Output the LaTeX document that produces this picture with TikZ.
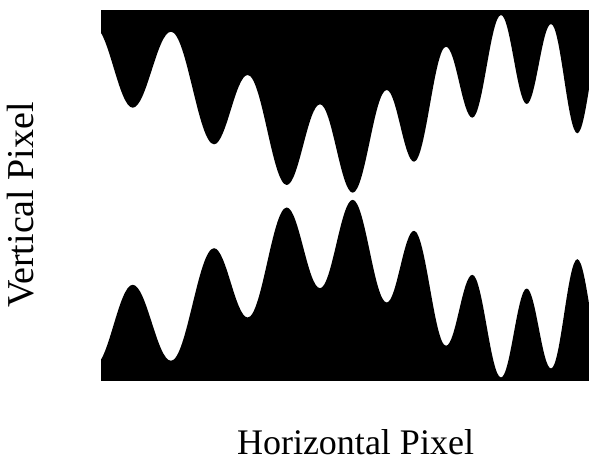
\documentclass[tikz,border=0pt]{standalone}
\usepackage{fontspec}
\setmainfont{Liberation Serif}
\tikzset{
  axislabel/.style={inner sep=0pt, text=black, text depth=0pt},
  band/.style={fill=black, draw=none}
}
\begin{document}
\begin{tikzpicture}[x=1pt,y=-1pt]
\useasboundingbox (0,0) rectangle (589,457);
\begin{scope}
\clip (101,11) rectangle (589,380);
% upper black region
\path[band] (94.4,27)
 .. controls +(13.9,0) and +(-13.9,0) .. (132.7,107.7)
 .. controls +(13.9,0) and +(-13.9,0) .. (171,31.7)
 .. controls +(15.6,0) and +(-15.6,0) .. (214,144.3)
 .. controls +(12.2,0) and +(-12.2,0) .. (247.7,75)
 .. controls +(14.2,0) and +(-14.2,0) .. (286.7,185)
 .. controls +(12.1,0) and +(-12.1,0) .. (320,104.3)
 .. controls +(11.9,0) and +(-11.9,0) .. (352.7,192.7)
 .. controls +(12.4,0) and +(-12.4,0) .. (386.7,90)
 .. controls +(9.9,0) and +(-9.9,0) .. (414,161.7)
 .. controls +(11.6,0) and +(-11.6,0) .. (446,46.7)
 .. controls +(9.6,0) and +(-9.6,0) .. (472.3,117.7)
 .. controls +(10.4,0) and +(-10.4,0) .. (501,15)
 .. controls +(9.3,0) and +(-9.3,0) .. (526.7,104)
 .. controls +(8.8,0) and +(-8.8,0) .. (551,24)
 .. controls +(9.6,0) and +(-9.6,0) .. (577.3,133.3)
 .. controls +(9.3,0) and +(-9.3,0) .. (603,30)
 -- (603,0) -- (94.4,0) -- cycle;
% lower black region
\path[band] (94.4,365.5)
 .. controls +(13.9,0) and +(-13.9,0) .. (132.7,284.8)
 .. controls +(13.9,0) and +(-13.9,0) .. (171,360.8)
 .. controls +(15.6,0) and +(-15.6,0) .. (214,248.2)
 .. controls +(12.2,0) and +(-12.2,0) .. (247.7,317.5)
 .. controls +(14.2,0) and +(-14.2,0) .. (286.7,207.5)
 .. controls +(12.1,0) and +(-12.1,0) .. (320,288.2)
 .. controls +(11.9,0) and +(-11.9,0) .. (352.7,199.8)
 .. controls +(12.4,0) and +(-12.4,0) .. (386.7,302.5)
 .. controls +(9.9,0) and +(-9.9,0) .. (414,230.8)
 .. controls +(11.6,0) and +(-11.6,0) .. (446,345.8)
 .. controls +(9.6,0) and +(-9.6,0) .. (472.3,274.8)
 .. controls +(10.4,0) and +(-10.4,0) .. (501,377.5)
 .. controls +(9.3,0) and +(-9.3,0) .. (526.7,288.5)
 .. controls +(8.8,0) and +(-8.8,0) .. (551,368.5)
 .. controls +(9.6,0) and +(-9.6,0) .. (577.3,259.2)
 .. controls +(9.3,0) and +(-9.3,0) .. (603,362.5)
 -- (603,400) -- (94.4,400) -- cycle;
\end{scope}
\node[axislabel, font=\fontsize{38}{40}\selectfont, rotate=90, anchor=base] (vlabel) at (33,205) {Vertical Pixel};
\node[axislabel, font=\fontsize{36}{40}\selectfont, anchor=base] (hlabel) at (355.5,454) {Horizontal Pixel};
\end{tikzpicture}
\end{document}
